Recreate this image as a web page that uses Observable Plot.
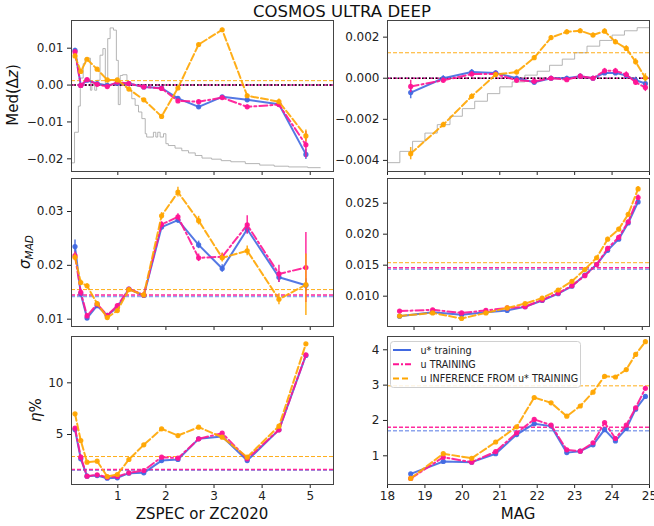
<!DOCTYPE html>
<html><head><meta charset="utf-8">
<script src="https://cdn.jsdelivr.net/npm/d3@7"></script>
<script src="https://cdn.jsdelivr.net/npm/@observablehq/plot@0.6"></script>
<style>
body{margin:0;background:#fff;}
#wrap{position:relative;width:654px;height:526px;overflow:hidden;font-family:"DejaVu Sans",sans-serif;background:#fff;}
</style></head><body><div id="wrap"></div>
<script>
// ---------- DATA ----------
const zBins = [0.11, 0.23, 0.36, 0.57, 0.78, 0.99, 1.23, 1.54, 1.91, 2.25, 2.68, 3.17, 3.69, 4.35, 4.91];
const magBins = [18.62, 19.49, 20.25, 20.89, 21.45, 21.92, 22.37, 22.79, 23.15, 23.49, 23.80, 24.09, 24.38, 24.63, 24.89];

const seriesNames = ["u* training", "u TRAINING", "u INFERENCE FROM u* TRAINING"];
const seriesColors = ["#4169e1", "#ff1493", "#ffa500"];

// Med(dz) vs z
const medZ_blue   = [0.0094, -0.0001, 0.0013, 0.0004, -0.0001, 0.0005, 0.0004, -0.0005, -0.0008, -0.0036, -0.0059, -0.0032, -0.0040, -0.0052, -0.0188];
const medZ_pink   = [0.0090, -0.0001, 0.0015, 0.0002, -0.0004, 0.0008, 0.0004, -0.0005, -0.0009, -0.0043, -0.0045, -0.0034, -0.0059, -0.0053, -0.0162];
const medZ_orange = [0.0079, 0.0037, 0.0070, 0.0043, 0.0014, 0.0014, -0.0011, -0.0040, -0.0085, -0.0008, 0.0110, 0.0150, -0.0029, -0.0045, -0.0138];
const medZErr_blue   = [0.0006, 0.0003, 0.0003, 0.0002, 0.0002, 0.0002, 0.0002, 0.0003, 0.0003, 0.0004, 0.0004, 0.0004, 0.0005, 0.0006, 0.0014];
const medZErr_pink   = [0.0006, 0.0003, 0.0003, 0.0002, 0.0002, 0.0002, 0.0002, 0.0003, 0.0003, 0.0004, 0.0004, 0.0004, 0.0005, 0.0007, 0.0036];
const medZErr_orange = [0.0006, 0.0003, 0.0003, 0.0002, 0.0002, 0.0002, 0.0002, 0.0003, 0.0003, 0.0004, 0.0004, 0.0004, 0.0005, 0.0007, 0.0016];
const medZ_hline = [0.0, 0.0, 0.0012];

// Med(dz) vs MAG
const medM_blue   = [-0.0007, 0.0000, 0.0003, 0.00026, 0.0000, -0.0002, 0.0000, 0.0000, 0.0001, 0.0000, 0.00026, 0.00026, 0.00013, -0.0001, -0.00026];
const medM_pink   = [-0.0004, -0.0001, 0.0002, 0.0002, -0.0001, -0.00015, 0.0000, -0.00007, 0.0001, 0.0000, 0.00036, 0.00036, 0.00018, -0.0002, -0.00045];
const medM_orange = [-0.00367, -0.00226, -0.00088, 0.00018, 0.0003, 0.0010, 0.00198, 0.00226, 0.00231, 0.0021, 0.00229, 0.00177, 0.00145, 0.0008, 0.00002];
const medMErr = [0.0003, 0.00012, 0.00012, 0.0001, 0.0001, 0.0001, 0.0001, 0.0001, 0.0001, 0.0001, 0.00012, 0.00012, 0.00013, 0.00015, 0.0002];
const medM_hline = [0.0, 0.0, 0.00124];

// sigma_MAD vs z
const sigZ_blue   = [0.0235, 0.0147, 0.0102, 0.0125, 0.0107, 0.0122, 0.0156, 0.0144, 0.0271, 0.0284, 0.0238, 0.0194, 0.0267, 0.0178, 0.0163];
const sigZ_pink   = [0.0218, 0.0150, 0.0106, 0.0128, 0.0107, 0.0125, 0.0156, 0.0145, 0.0276, 0.0290, 0.0214, 0.0216, 0.0275, 0.0184, 0.0196];
const sigZ_orange = [0.0215, 0.0168, 0.0162, 0.0129, 0.0103, 0.0116, 0.0155, 0.0145, 0.0292, 0.0336, 0.0283, 0.0214, 0.0227, 0.0137, 0.0164];
const sigZErr_blue   = [0.0012, 0.0005, 0.0004, 0.0004, 0.0003, 0.0003, 0.0003, 0.0003, 0.0005, 0.0006, 0.0007, 0.0007, 0.0009, 0.0010, 0.0012];
const sigZErr_pink   = [0.0007, 0.0005, 0.0004, 0.0004, 0.0003, 0.0003, 0.0003, 0.0003, 0.0005, 0.0006, 0.0007, 0.0007, 0.0017, 0.0016, 0.0065];
const sigZErr_orange = [0.0006, 0.0005, 0.0004, 0.0004, 0.0003, 0.0003, 0.0003, 0.0003, 0.0006, 0.0009, 0.0008, 0.0008, 0.0009, 0.0010, 0.0057];
const sigZ_hline = [0.0142, 0.0145, 0.0155];

// sigma_MAD vs MAG
const sigM_blue   = [0.00677, 0.0074, 0.0070, 0.0074, 0.0077, 0.0083, 0.0093, 0.0104, 0.0116, 0.0134, 0.0151, 0.0174, 0.0192, 0.0218, 0.0252];
const sigM_pink   = [0.0076, 0.0078, 0.0073, 0.0077, 0.0081, 0.0083, 0.0094, 0.0105, 0.0117, 0.0133, 0.0151, 0.0177, 0.0195, 0.0220, 0.0259];
const sigM_orange = [0.0068, 0.0073, 0.0064, 0.0073, 0.0081, 0.0088, 0.0097, 0.0110, 0.0124, 0.0143, 0.0162, 0.0192, 0.0208, 0.0232, 0.0273];
const sigMErr = [0.0002, 0.0002, 0.0002, 0.0002, 0.0002, 0.0002, 0.0002, 0.0002, 0.0002, 0.0002, 0.0002, 0.0003, 0.0003, 0.0003, 0.0004];
const sigM_hline = [0.01435, 0.01457, 0.0154];

// eta% vs z
const etaZ_blue   = [5.48, 2.65, 0.97, 1.03, 0.77, 0.81, 1.26, 1.29, 2.48, 2.58, 4.58, 4.81, 2.48, 5.45, 12.65];
const etaZ_pink   = [5.61, 2.81, 0.97, 1.10, 0.87, 0.94, 1.29, 1.52, 2.81, 2.71, 4.58, 5.13, 2.65, 5.45, 12.71];
const etaZ_orange = [7.00, 4.42, 2.32, 2.42, 0.94, 1.13, 2.58, 4.00, 5.55, 4.90, 5.71, 4.74, 2.81, 5.81, 13.77];
const etaZ_hline = [1.55, 1.61, 2.87];

// eta% vs MAG
const etaM_blue   = [0.49, 0.84, 0.82, 1.06, 1.60, 1.91, 1.84, 1.09, 1.13, 1.31, 1.74, 1.42, 1.77, 2.32, 2.68];
const etaM_pink   = [0.36, 0.96, 0.82, 1.12, 1.65, 2.03, 1.87, 1.17, 1.13, 1.37, 1.94, 1.49, 1.87, 2.36, 2.91];
const etaM_orange = [0.36, 1.06, 0.93, 1.39, 1.82, 2.65, 2.50, 2.12, 2.41, 2.80, 3.25, 3.23, 3.44, 3.87, 4.23];
const etaM_hline = [1.71, 1.81, 2.98];

// background histograms (scaled into axis units)
const histZEdges = [0.03, 0.10, 0.18, 0.22, 0.28, 0.32, 0.43, 0.46, 0.52, 0.56, 0.63, 0.69, 0.74, 0.79, 0.84, 0.91, 0.97, 1.01, 1.05, 1.10, 1.19, 1.24, 1.29, 1.36, 1.43, 1.50, 1.57, 1.60, 1.74, 1.79, 1.83, 1.88, 1.95, 2.00, 2.05, 2.19, 2.33, 2.47, 2.61, 2.75, 2.95, 3.15, 3.35, 3.65, 3.95, 4.25, 4.55, 4.95, 5.21];
const histZValues = [-0.0211, -0.0128, -0.0057, 0.0019, 0.0058, 0.0073, -0.0014, 0.0008, -0.0014, 0.0013, 0.0081, 0.0099, -0.0001, 0.0126, 0.0155, 0.0149, 0.0067, -0.0053, 0.0026, 0.0028, 0.0010, -0.0014, -0.0037, -0.0055, -0.0073, -0.0091, -0.0132, -0.0141, -0.0128, -0.0141, -0.0128, -0.0141, -0.0132, -0.0159, -0.0164, -0.0171, -0.0178, -0.0184, -0.0191, -0.0198, -0.0201, -0.0205, -0.0208, -0.0213, -0.0217, -0.0220, -0.0222, -0.0224];
const histMEdges = [18, 18.33, 18.67, 19, 19.33, 19.67, 20, 20.33, 20.67, 21, 21.33, 21.67, 22, 22.33, 22.67, 23, 23.33, 23.67, 24, 24.33, 24.67, 25];
const histMValues = [-0.00411, -0.00356, -0.00307, -0.00267, -0.00226, -0.00185, -0.00148, -0.00112, -0.00075, -0.00042, -0.00018, 0.00015, 0.00034, 0.00063, 0.00093, 0.00124, 0.00156, 0.00184, 0.0021, 0.00231, 0.00246];

// tick values
const zTicks = [1, 2, 3, 4, 5];
const magTicksFull = [18, 19, 20, 21, 22, 23, 24, 25];
const magTicksMid = [19, 20, 21, 22, 23, 24, 25];

// ---------- DRAWING ----------
const wrap = document.getElementById("wrap");
const FONT = '"DejaVu Sans", sans-serif';
const dashes = [null, "8,3,2,3", "7,3"];

function rows(xs, ys, es) { return xs.map((x, i) => ({x, y: ys[i], e: es ? es[i] : 0})); }
function histRows(edges, vals) { return edges.map((x, i) => ({x, y: vals[Math.min(i, vals.length - 1)]})); }

function seriesMarks(xs, list, errs) {
  const out = [];
  list.forEach((ys, k) => {
    const data = rows(xs, ys, errs ? errs[k] : null);
    if (errs) out.push(Plot.ruleX(data, {x: "x", y1: d => d.y - d.e, y2: d => d.y + d.e, stroke: seriesColors[k], strokeWidth: 1.5, strokeOpacity: 0.9}));
    const lo = {x: "x", y: "y", stroke: seriesColors[k], strokeWidth: 2, strokeOpacity: 0.9};
    if (dashes[k]) lo.strokeDasharray = dashes[k];
    out.push(Plot.line(data, lo));
    out.push(Plot.dot(data, {x: "x", y: "y", r: 2.6, fill: seriesColors[k], fillOpacity: 0.95}));
  });
  return out;
}
function hlineMarks(vals, zeroLine) {
  const out = [];
  vals.forEach((v, k) => out.push(Plot.ruleY([v], {stroke: seriesColors[k], strokeWidth: k === 2 ? 1 : 1.5, strokeDasharray: "4,2", strokeOpacity: k === 0 ? 0.6 : 0.9})));
  if (zeroLine) out.push(Plot.ruleY([0], {stroke: "black", strokeWidth: 1.5, strokeDasharray: "1.5,2"}));
  return out;
}

function panel(o) {
  const ml = 62, mr = 6, mt = 6, mb = 24;
  const w = o.x1 - o.x0, h = o.y1 - o.y0;
  const svg = Plot.plot({
    width: w + ml + mr, height: h + mt + mb,
    marginLeft: ml, marginRight: mr, marginTop: mt, marginBottom: mb,
    x: {type: "linear", domain: o.xDomain, ticks: o.xTicks, tickSize: 4, tickPadding: 3,
        tickFormat: o.xLabels ? (d => String(d)) : (() => ""), label: null},
    y: {type: "linear", domain: o.yDomain, ticks: o.yTicks, tickSize: 4, tickPadding: 4,
        tickFormat: o.yFormat, label: null},
    style: {fontFamily: FONT, fontSize: "12px", color: "#222", background: "transparent", overflow: "visible"},
    marks: [...o.marks, Plot.frame({stroke: "#444", strokeWidth: 1})]
  });
  svg.style.position = "absolute";
  svg.style.left = (o.x0 - ml) + "px";
  svg.style.top = (o.y0 - mt) + "px";
  svg.style.maxWidth = "none";
  wrap.appendChild(svg);
}

const L = {x0: 71, x1: 333}, R = {x0: 387, x1: 649};
const rowTop = {y0: 20, y1: 171}, rowMid = {y0: 178, y1: 326}, rowBot = {y0: 336, y1: 484};
const histStyle = {x: "x", y: "y", curve: "step-after", stroke: "#a8a8a8", strokeWidth: 1, strokeOpacity: 0.85};

// top-left
panel({...L, ...rowTop, xDomain: [0.037, 5.484], yDomain: [-0.02344, 0.01751], xTicks: zTicks, xLabels: false,
  yTicks: [-0.02, -0.01, 0, 0.01], yFormat: d3.format(".2f"),
  marks: [
    Plot.line(histRows(histZEdges, histZValues), histStyle),
    ...hlineMarks(medZ_hline, true),
    ...seriesMarks(zBins, [medZ_blue, medZ_pink, medZ_orange], [medZErr_blue, medZErr_pink, medZErr_orange])
  ]});
// top-right
panel({...R, ...rowTop, xDomain: [18, 25], yDomain: [-0.00454, 0.00281], xTicks: magTicksFull, xLabels: false,
  yTicks: [-0.004, -0.002, 0, 0.002], yFormat: d3.format(".3f"),
  marks: [
    Plot.line(histRows(histMEdges, histMValues), histStyle),
    ...hlineMarks(medM_hline, true),
    ...seriesMarks(magBins, [medM_blue, medM_pink, medM_orange], [medMErr, medMErr, medMErr])
  ]});
// middle-left
panel({...L, ...rowMid, xDomain: [0.037, 5.484], yDomain: [0.00864, 0.03613], xTicks: zTicks, xLabels: false,
  yTicks: [0.01, 0.02, 0.03], yFormat: d3.format(".2f"),
  marks: [
    ...hlineMarks(sigZ_hline, false),
    ...seriesMarks(zBins, [sigZ_blue, sigZ_pink, sigZ_orange], [sigZErr_blue, sigZErr_pink, sigZErr_orange])
  ]});
// middle-right
panel({...R, ...rowMid, xDomain: [18.303, 25.19], yDomain: [0.00511, 0.02898], xTicks: magTicksMid, xLabels: false,
  yTicks: [0.010, 0.015, 0.020, 0.025], yFormat: d3.format(".3f"),
  marks: [
    ...hlineMarks(sigM_hline, false),
    ...seriesMarks(magBins, [sigM_blue, sigM_pink, sigM_orange], [sigMErr, sigMErr, sigMErr])
  ]});
// bottom-left
panel({...L, ...rowBot, xDomain: [0.037, 5.484], yDomain: [0.164, 14.48], xTicks: zTicks, xLabels: true,
  yTicks: [5, 10], yFormat: d3.format("d"),
  marks: [
    ...hlineMarks(etaZ_hline, false),
    ...seriesMarks(zBins, [etaZ_blue, etaZ_pink, etaZ_orange], null)
  ]});
// bottom-right
panel({...R, ...rowBot, xDomain: [18, 25], yDomain: [0.188, 4.376], xTicks: magTicksFull, xLabels: true,
  yTicks: [1, 2, 3, 4], yFormat: d3.format("d"),
  marks: [
    ...hlineMarks(etaM_hline, false),
    ...seriesMarks(magBins, [etaM_blue, etaM_pink, etaM_orange], null)
  ]});

// ---------- overlay text: title, axis labels, legend ----------
const NS = "http://www.w3.org/2000/svg";
const ov = document.createElementNS(NS, "svg");
ov.setAttribute("width", 654); ov.setAttribute("height", 526);
ov.style.position = "absolute"; ov.style.left = "0px"; ov.style.top = "0px";
ov.style.fontFamily = FONT; ov.style.pointerEvents = "none";
wrap.appendChild(ov);
function el(tag, attrs, parent) {
  const e = document.createElementNS(NS, tag);
  for (const k in attrs) e.setAttribute(k, attrs[k]);
  (parent || ov).appendChild(e);
  return e;
}
function txt(attrs, parts, parent) {
  const t = el("text", attrs, parent);
  parts.forEach(p => {
    const s = el("tspan", p.attrs || {}, t);
    s.textContent = p.text;
  });
  return t;
}
txt({x: 342, y: 17, "text-anchor": "middle", "font-size": "16.5px", fill: "#111"}, [{text: "COSMOS ULTRA DEEP"}]);
txt({transform: "translate(18,95) rotate(-90)", "text-anchor": "middle", "font-size": "15px", fill: "#111"},
  [{text: "Med(Δ"}, {text: "z", attrs: {"font-style": "italic"}}, {text: ")"}]);
txt({transform: "translate(29.5,252) rotate(-90)", "text-anchor": "middle", "font-size": "15px", fill: "#111", "font-style": "italic"},
  [{text: "σ"}, {text: "MAD", attrs: {"font-size": "10.5px", dy: "3"}}]);
txt({transform: "translate(41,410) rotate(-90)", "text-anchor": "middle", "font-size": "15px", fill: "#111"},
  [{text: "η", attrs: {"font-style": "italic"}}, {text: "%"}]);
txt({x: 202, y: 519, "text-anchor": "middle", "font-size": "15px", fill: "#111"}, [{text: "ZSPEC or ZC2020"}]);
txt({x: 518, y: 519, "text-anchor": "middle", "font-size": "15px", fill: "#111"}, [{text: "MAG"}]);

// legend
el("rect", {x: 390.5, y: 341.5, width: 190, height: 46, rx: 3, fill: "white", "fill-opacity": 0.85, stroke: "#d0d0d0"});
const legY = [350, 364.3, 378.5];
seriesNames.forEach((name, k) => {
  const ln = el("line", {x1: 393, x2: 411, y1: legY[k], y2: legY[k], stroke: seriesColors[k], "stroke-width": 2});
  if (dashes[k]) ln.setAttribute("stroke-dasharray", dashes[k] === "7,3" ? "6,3" : "6,2,2,2");
  txt({x: 420.5, y: legY[k] + 3.5, "font-size": "9.6px", fill: "#222"}, [{text: name}]);
});
</script></body></html>
